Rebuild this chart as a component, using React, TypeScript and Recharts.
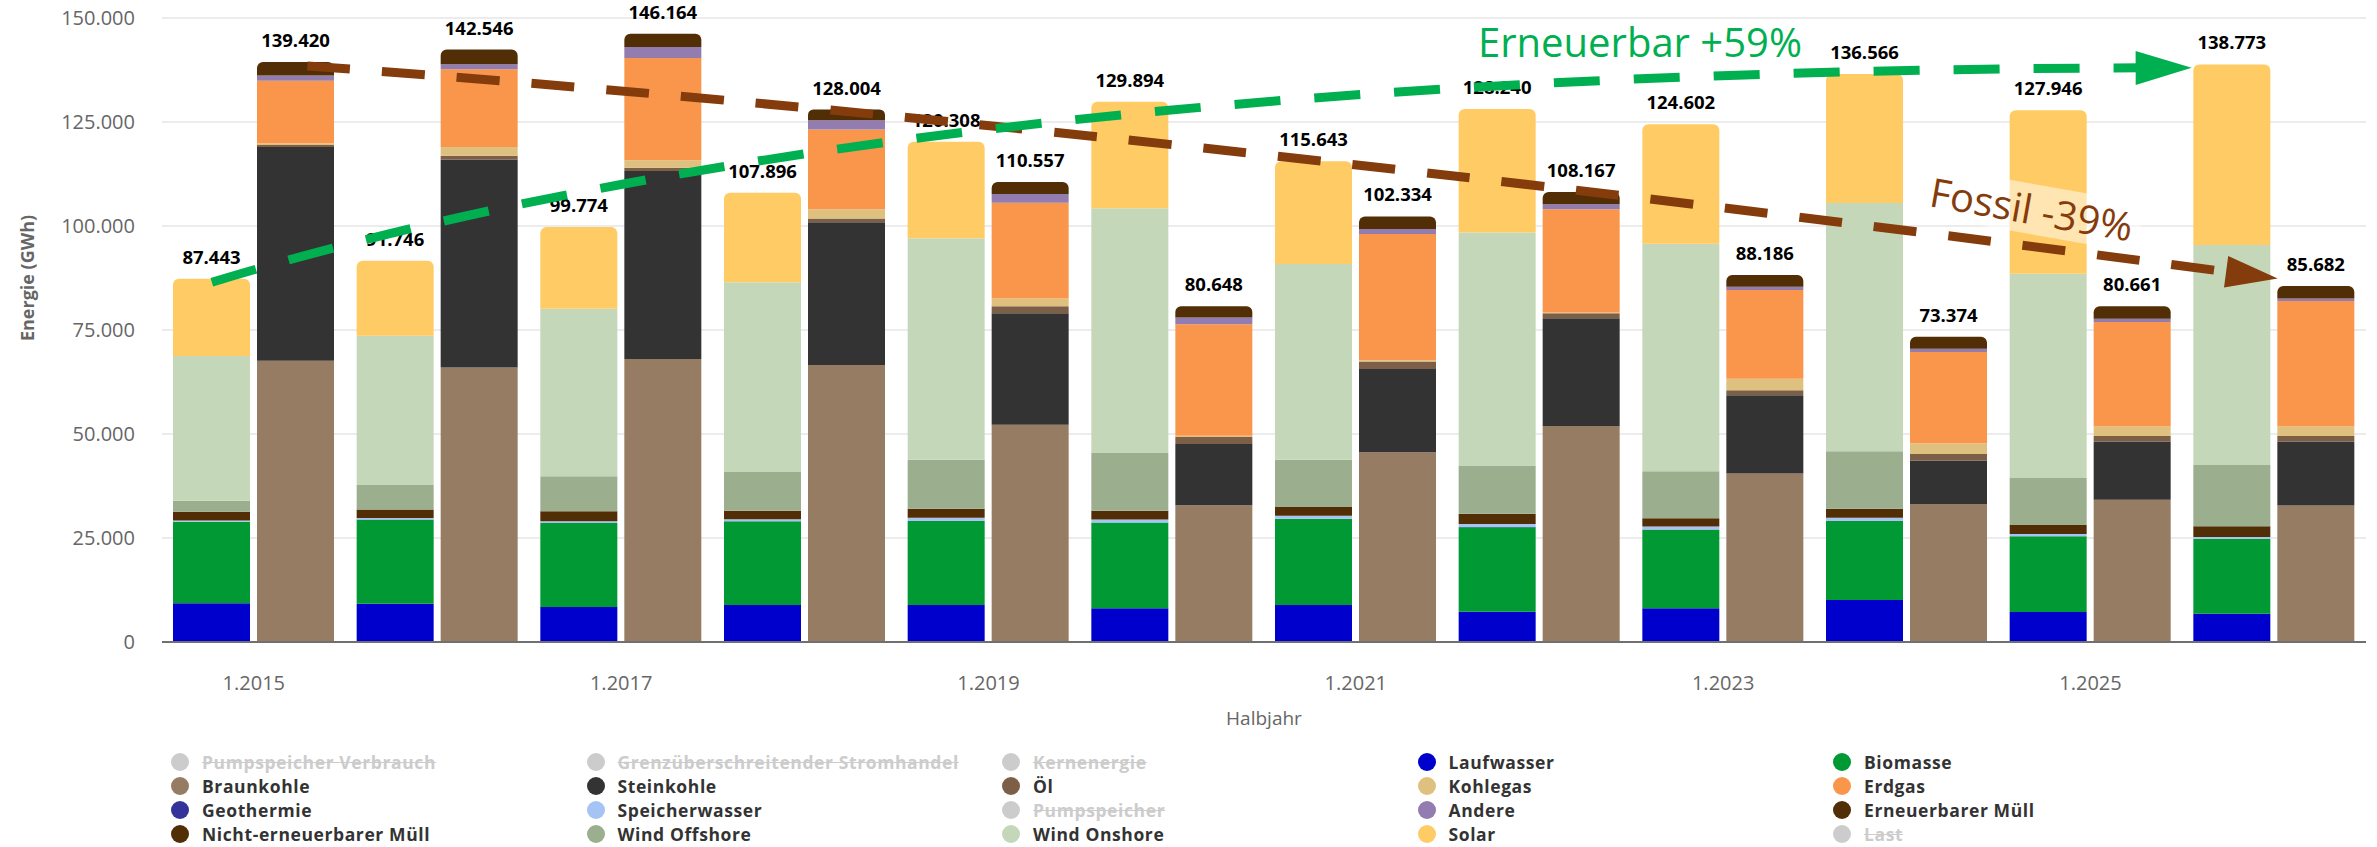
import React from "react";
import { BarChart, Bar, XAxis, YAxis, CartesianGrid, LabelList } from "recharts";

// half-year categories (only every second one gets a tick label)
const categories = [
  "1.2015", "1.2016", "1.2017", "1.2018", "1.2019", "1.2020",
  "1.2021", "1.2022", "1.2023", "1.2024", "1.2025", "1.2026",
];

const yTicks = [0, 25000, 50000, 75000, 100000, 125000, 150000];

// renewable stack, GWh
const laufwasser = [9300, 9200, 8400, 8900, 8900, 8100, 8900, 7300, 8100, 10100, 7200, 6800];
const biomasse = [19600, 20200, 20200, 20100, 20200, 20600, 20700, 20300, 18900, 19000, 18200, 18000];
const geothermie = [30, 30, 30, 30, 40, 40, 40, 40, 40, 40, 40, 40];
const speicherwasser = [300, 400, 400, 450, 700, 700, 700, 700, 700, 700, 500, 400];
const erneuerbarerMuell = [2100, 2000, 2400, 2100, 2200, 2100, 2100, 2500, 2000, 2200, 2200, 2600];
const windOffshore = [2600, 5900, 8400, 9300, 11800, 13900, 11400, 11600, 11300, 13800, 11300, 14700];
const windOnshore = [34800, 35900, 40300, 45600, 53200, 58800, 47000, 56000, 54700, 59700, 49100, 52900];
const solar = [18600, 18000, 19600, 21500, 23200, 25600, 24700, 29700, 28700, 31000, 39300, 43400];

// fossil stack, GWh
const braunkohle = [67600, 66000, 68000, 66600, 52200, 32900, 45600, 51900, 40500, 33200, 34200, 32800];
const steinkohle = [51400, 50000, 45200, 34300, 26800, 14700, 20000, 25900, 18800, 10400, 14000, 15400];
const oel = [500, 900, 800, 900, 1700, 1700, 1800, 1200, 1200, 1600, 1300, 1300];
const kohlegas = [400, 2100, 1800, 2200, 1900, 300, 300, 200, 2800, 2600, 2300, 2300];
const erdgas = [15000, 18700, 24600, 19200, 23000, 26800, 30400, 24800, 21300, 21900, 25100, 30200];
const andere = [1300, 1200, 2600, 2200, 2100, 1600, 1200, 1200, 800, 800, 800, 600];
const nichtErnMuell = [3200, 3500, 3200, 2600, 2900, 2700, 3000, 3000, 2800, 2900, 3000, 3000];

// stack totals as printed above the bars
const renewableTotals = [87443, 91746, 99774, 107896, 120308, 129894, 115643, 128240, 124602, 136566, 127946, 138773];
const fossilTotals = [139420, 142546, 146164, 128004, 110557, 80648, 102334, 108167, 88186, 73374, 80661, 85682];

const renewableSeries = [
  { key: "laufwasser", name: "Laufwasser", color: "#0000CC", values: laufwasser },
  { key: "biomasse", name: "Biomasse", color: "#009933", values: biomasse },
  { key: "geothermie", name: "Geothermie", color: "#333399", values: geothermie },
  { key: "speicherwasser", name: "Speicherwasser", color: "#A6C3F5", values: speicherwasser },
  { key: "ernMuell", name: "Erneuerbarer Müll", color: "#512E05", values: erneuerbarerMuell },
  { key: "windOffshore", name: "Wind Offshore", color: "#9BAF8F", values: windOffshore },
  { key: "windOnshore", name: "Wind Onshore", color: "#C4D8B9", values: windOnshore },
  { key: "solar", name: "Solar", color: "#FFCB64", values: solar },
];

const fossilSeries = [
  { key: "braunkohle", name: "Braunkohle", color: "#967C62", values: braunkohle },
  { key: "steinkohle", name: "Steinkohle", color: "#333333", values: steinkohle },
  { key: "oel", name: "Öl", color: "#7D5F47", values: oel },
  { key: "kohlegas", name: "Kohlegas", color: "#DFC17F", values: kohlegas },
  { key: "erdgas", name: "Erdgas", color: "#F9964B", values: erdgas },
  { key: "andere", name: "Andere", color: "#927CB0", values: andere },
  { key: "neMuell", name: "Nicht-erneuerbarer Müll", color: "#512E05", values: nichtErnMuell },
];

// legend, row by row (5 columns); hidden series are greyed and struck through
const legendItems = [
  { name: "Pumpspeicher Verbrauch", color: "#cccccc", hidden: true },
  { name: "Grenzüberschreitender Stromhandel", color: "#cccccc", hidden: true },
  { name: "Kernenergie", color: "#cccccc", hidden: true },
  { name: "Laufwasser", color: "#0000CC" },
  { name: "Biomasse", color: "#009933" },
  { name: "Braunkohle", color: "#967C62" },
  { name: "Steinkohle", color: "#333333" },
  { name: "Öl", color: "#7D5F47" },
  { name: "Kohlegas", color: "#DFC17F" },
  { name: "Erdgas", color: "#F9964B" },
  { name: "Geothermie", color: "#333399" },
  { name: "Speicherwasser", color: "#A6C3F5" },
  { name: "Pumpspeicher", color: "#cccccc", hidden: true },
  { name: "Andere", color: "#927CB0" },
  { name: "Erneuerbarer Müll", color: "#512E05" },
  { name: "Nicht-erneuerbarer Müll", color: "#512E05" },
  { name: "Wind Offshore", color: "#9BAF8F" },
  { name: "Wind Onshore", color: "#C4D8B9" },
  { name: "Solar", color: "#FFCB64" },
  { name: "Last", color: "#cccccc", hidden: true },
];

const data = categories.map((c, i) => {
  const row: Record<string, number | string> = { halbjahr: c, rTotal: renewableTotals[i], fTotal: fossilTotals[i] };
  renewableSeries.forEach((s) => (row[s.key] = s.values[i]));
  fossilSeries.forEach((s) => (row[s.key] = s.values[i]));
  return row;
});

const W = 2377;
const H = 847;
const FONT = "'Open Sans', Arial, sans-serif";
const Y_MAX = 150000;
// plot area, matches the margins given to the chart below
const PLOT = { left: 162, right: 2366, top: 18, bottom: 642 };
const BAR = 77;
const GAP = 7;

const fmt = (v: number) => String(Math.round(v)).replace(/\B(?=(\d{3})+(?!\d))/g, ".");

const bandW = (PLOT.right - PLOT.left) / categories.length;
const xCenter = (i: number) => PLOT.left + bandW * (i + 0.5);
const yOf = (v: number) => PLOT.bottom - (v / Y_MAX) * (PLOT.bottom - PLOT.top);

const renderTotal = (props: any) => {
  const { x, y, width, value } = props;
  if (value == null) return null;
  return (
    <text
      x={Number(x) + Number(width) / 2}
      y={Number(y) - 15}
      textAnchor="middle"
      fill="#000"
      fontFamily={FONT}
      fontWeight={700}
      fontSize={18.5}
    >
      {fmt(Number(value))}
    </text>
  );
};

function YTitle() {
  return (
    <text
      x={34}
      y={278}
      transform="rotate(-90 34 278)"
      textAnchor="middle"
      fill="#666"
      fontFamily={FONT}
      fontWeight={700}
      fontSize={18}
    >
      Energie (GWh)
    </text>
  );
}

function XTitle() {
  return (
    <text x={(PLOT.left + PLOT.right) / 2} y={725} textAnchor="middle" fill="#666" fontFamily={FONT} fontSize={19}>
      Halbjahr
    </text>
  );
}

type Pt = [number, number];

function arrowParts(p0: Pt, p1: Pt, p2: Pt, headLen: number, headHalf: number) {
  const dx = p2[0] - p1[0];
  const dy = p2[1] - p1[1];
  const len = Math.hypot(dx, dy);
  const ux = dx / len;
  const uy = dy / len;
  const base: Pt = [p2[0] - ux * headLen, p2[1] - uy * headLen];
  const line = `M${p0[0]},${p0[1]} Q${p1[0]},${p1[1]} ${base[0] + ux * 6},${base[1] + uy * 6}`;
  const head = `M${p2[0]},${p2[1]} L${base[0] - uy * headHalf},${base[1] + ux * headHalf} L${base[0] + uy * headHalf},${base[1] - ux * headHalf} Z`;
  return { line, head };
}

function Annotations() {
  const last = categories.length - 1;
  // Erneuerbar: from first renewable bar to last renewable bar
  const g0: Pt = [xCenter(0) - GAP / 2 - BAR / 2, yOf(renewableTotals[0]) + 4];
  const g2: Pt = [xCenter(last) - GAP / 2 - BAR - 2, yOf(renewableTotals[last]) + 3];
  const g1: Pt = [g0[0] + 0.35 * (g2[0] - g0[0]), g2[1] + 4];
  const green = arrowParts(g0, g1, g2, 56, 17);

  // Fossil: from first fossil bar to last fossil bar
  const b0: Pt = [xCenter(0) + GAP / 2 + 50, yOf(fossilTotals[0]) + 4];
  const b2: Pt = [xCenter(last) + GAP / 2, yOf(fossilTotals[last]) - 7];
  const b1: Pt = [b0[0] + 0.4 * (b2[0] - b0[0]), b0[1] + 0.265 * (b2[1] - b0[1])];
  const brown = arrowParts(b0, b1, b2, 52, 16);

  const tx = 1928;
  const ty = 206;

  return (
    <svg width={W} height={H} style={{ position: "absolute", left: 0, top: 0, pointerEvents: "none" }}>
      <path d={brown.line} fill="none" stroke="#843C0C" strokeWidth={9} strokeDasharray="43 32" />
      <path d={brown.head} fill="#843C0C" />
      <rect x={tx - 13} y={ty - 40} width={226} height={50} fill="#fff" fillOpacity={0.5} transform={`rotate(10 ${tx} ${ty})`} />
      <text x={tx} y={ty} fill="#843C0C" fontFamily={FONT} fontSize={40} transform={`rotate(10 ${tx} ${ty})`}>
        Fossil -39%
      </text>
      <path d={green.line} fill="none" stroke="#00B050" strokeWidth={9} strokeDasharray="46 34" />
      <path d={green.head} fill="#00B050" />
      <text x={1478} y={57} fill="#00B050" fontFamily={FONT} fontSize={40}>
        Erneuerbar +59%
      </text>
    </svg>
  );
}

function LegendBlock() {
  const colX = [180, 595.5, 1011, 1426.5, 1842];
  const rowY = [762, 786, 810, 834];
  return (
    <div style={{ position: "absolute", left: 0, top: 0, width: W, height: H, pointerEvents: "none" }}>
      {legendItems.map((it, i) => {
        const cx = colX[i % 5];
        const cy = rowY[Math.floor(i / 5)];
        return (
          <div
            key={it.name}
            style={{
              position: "absolute",
              left: cx - 9,
              top: cy - 10,
              height: 20,
              display: "flex",
              alignItems: "center",
              whiteSpace: "nowrap",
            }}
          >
            <span style={{ width: 18, height: 18, borderRadius: 9, background: it.color, display: "inline-block" }} />
            <span
              style={{
                marginLeft: 13,
                fontFamily: FONT,
                fontWeight: 700,
                fontSize: 17.5,
                letterSpacing: "0.6px",
                lineHeight: "18px",
                color: it.hidden ? "#cccccc" : "#333333",
                textDecoration: it.hidden ? "line-through" : "none",
              }}
            >
              {it.name}
            </span>
          </div>
        );
      })}
    </div>
  );
}

export default function App() {
  const rLast = renewableSeries.length - 1;
  const fLast = fossilSeries.length - 1;
  return (
    <div style={{ position: "absolute", left: 0, top: 0, width: W, height: H, background: "#fff", overflow: "hidden", fontFamily: FONT }}>
      <BarChart
        width={W}
        height={H}
        data={data}
        margin={{ top: PLOT.top, right: W - PLOT.right, left: 0, bottom: H - PLOT.bottom - 60 }}
        barSize={BAR}
        barGap={GAP}
      >
        <CartesianGrid vertical={false} stroke="#e6e6e6" strokeWidth={1.5} />
        <XAxis
          dataKey="halbjahr"
          interval={1}
          height={60}
          tickLine={false}
          tickSize={0}
          tickMargin={34}
          axisLine={{ stroke: "#707070", strokeWidth: 2 }}
          tick={{ fill: "#666", fontSize: 20, fontFamily: FONT }}
          label={<XTitle />}
        />
        <YAxis
          type="number"
          domain={[0, Y_MAX]}
          ticks={yTicks}
          width={PLOT.left}
          axisLine={false}
          tickLine={false}
          tickSize={0}
          tickMargin={27}
          tick={{ fill: "#666", fontSize: 20, fontFamily: FONT }}
          tickFormatter={(v) => fmt(Number(v))}
          label={<YTitle />}
        />
        {renewableSeries.map((s, idx) => (
          <Bar
            key={s.key}
            dataKey={s.key}
            name={s.name}
            stackId="r"
            fill={s.color}
            isAnimationActive={false}
            radius={idx === rLast ? [6, 6, 0, 0] : 0}
          >
            {idx === rLast && <LabelList dataKey="rTotal" content={renderTotal} />}
          </Bar>
        ))}
        {fossilSeries.map((s, idx) => (
          <Bar
            key={s.key}
            dataKey={s.key}
            name={s.name}
            stackId="f"
            fill={s.color}
            isAnimationActive={false}
            radius={idx === fLast ? [6, 6, 0, 0] : 0}
          >
            {idx === fLast && <LabelList dataKey="fTotal" content={renderTotal} />}
          </Bar>
        ))}
      </BarChart>
      <Annotations />
      <LegendBlock />
    </div>
  );
}
